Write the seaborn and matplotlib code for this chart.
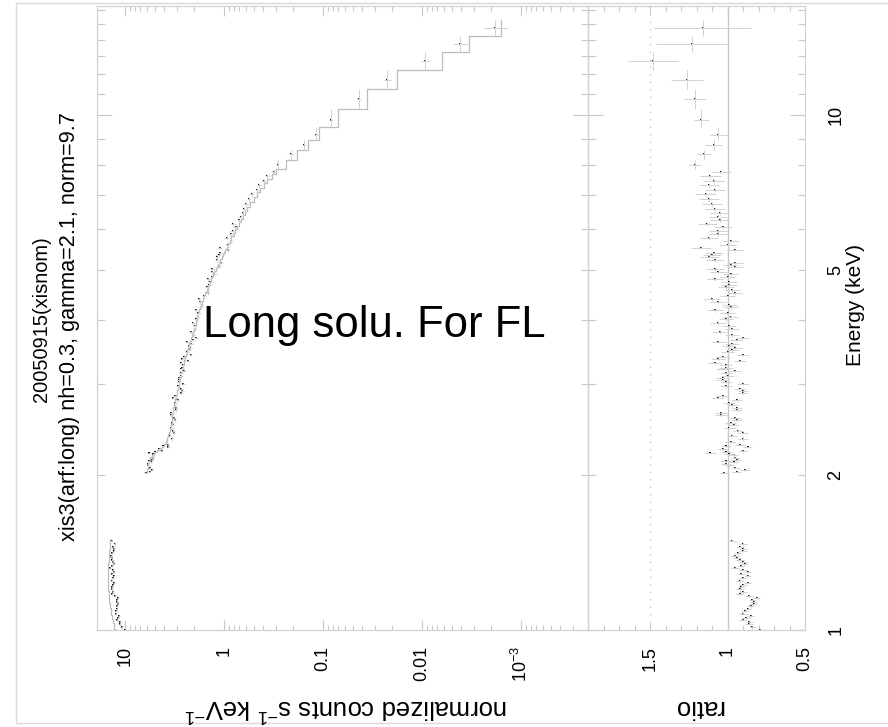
import numpy as np
import pandas as pd
import matplotlib
matplotlib.use("Agg")
import matplotlib.pyplot as plt
import seaborn as sns
from matplotlib.ticker import FixedLocator, NullFormatter, FuncFormatter, MultipleLocator
from matplotlib.patches import Rectangle

# ---------------- data ----------------
title_line1 = "20050915(xisnom)"
title_line2 = "xis3(arf:long) nh=0.3, gamma=2.1, norm=9.7"
overlay_text = "Long solu. For FL"
energy_label = "Energy (keV)"
counts_label = r"normalized counts s$^{-1}$ keV$^{-1}$"
ratio_label = "ratio"

count_ticks = [10, 1, 0.1, 0.01, 1e-3]
count_tick_labels = ["10", "1", "0.1", "0.01", r"10$^{-3}$"]
ratio_ticks = [0.5, 1.0, 1.5]
ratio_tick_labels = ["0.5", "1", "1.5"]
energy_labelled = {1: "1", 2: "2", 5: "5", 10: "10"}

# low-energy band (keV), model (counts/s/keV), data/model ratio, relative error
lo_energy = [1.000, 1.013, 1.027, 1.036, 1.046, 1.055, 1.065, 1.074, 1.089, 1.098,
             1.113, 1.123, 1.133, 1.144, 1.154, 1.164, 1.175, 1.185, 1.201, 1.212,
             1.223, 1.234, 1.245, 1.262, 1.273, 1.284, 1.296, 1.307, 1.319, 1.331,
             1.343, 1.355, 1.367, 1.380, 1.392, 1.411, 1.423, 1.436, 1.449, 1.469,
             1.489]
lo_model = [12.6, 12.8, 13.0, 13.15, 13.3, 13.45, 13.6, 13.7, 13.9, 14.0,
            14.15, 14.25, 14.35, 14.45, 14.5, 14.55, 14.6, 14.65, 14.7, 14.75,
            14.78, 14.8, 14.82, 14.83, 14.83, 14.82, 14.8, 14.78, 14.75, 14.72,
            14.68, 14.64, 14.6, 14.55, 14.5, 14.43, 14.38, 14.32, 14.26, 14.18,
            14.1]
lo_ratio = [0.79, 0.84, 0.86, 0.86, 0.90, 0.88, 0.85, 0.90, 0.89, 0.87,
            0.85, 0.83, 0.83, 0.84, 0.81, 0.86, 0.92, 0.90, 0.92, 0.91,
            0.90, 0.87, 0.92, 0.90, 0.87, 0.91, 0.87, 0.90, 0.95, 0.91,
            0.89, 0.90, 0.92, 0.94, 0.95, 0.93, 0.90, 0.90, 0.92, 0.90,
            0.97]
lo_relerr = [0.028, 0.027, 0.028, 0.027, 0.028, 0.027, 0.028, 0.027, 0.028, 0.027,
             0.028, 0.027, 0.028, 0.027, 0.028, 0.027, 0.028, 0.027, 0.028, 0.027,
             0.028, 0.027, 0.028, 0.027, 0.028, 0.027, 0.028, 0.027, 0.028, 0.027,
             0.028, 0.027, 0.028, 0.027, 0.028, 0.027, 0.028, 0.027, 0.028, 0.027,
             0.028]

hi_energy = [2.018, 2.027, 2.045, 2.063, 2.091, 2.100, 2.119, 2.129, 2.138, 2.157,
             2.187, 2.196, 2.206, 2.216, 2.226, 2.246, 2.266, 2.276, 2.287, 2.317,
             2.349, 2.381, 2.413, 2.435, 2.467, 2.501, 2.523, 2.557, 2.580, 2.615,
             2.638, 2.674, 2.698, 2.734, 2.759, 2.796, 2.821, 2.847, 2.885, 2.911,
             2.937, 2.977, 3.004, 3.031, 3.058, 3.085, 3.113, 3.155, 3.183, 3.212,
             3.226, 3.270, 3.299, 3.329, 3.358, 3.388, 3.419, 3.465, 3.496, 3.528,
             3.560, 3.592, 3.624, 3.657, 3.689, 3.739, 3.789, 3.840, 3.892, 3.944,
             4.015, 4.051, 4.126, 4.181, 4.237, 4.275, 4.333, 4.391, 4.450, 4.510,
             4.571, 4.634, 4.675, 4.738, 4.802, 4.845, 4.911, 4.955, 5.022, 5.067,
             5.112, 5.158, 5.228, 5.298, 5.346, 5.394, 5.467, 5.516, 5.590, 5.691,
             5.768, 5.872, 5.951, 6.058, 6.140, 6.251, 6.335, 6.449, 6.565, 6.714,
             6.866, 7.021, 7.148, 7.310, 7.442, 7.610, 7.748, 7.994, 8.397, 8.742,
             9.143, 9.779, 10.74, 11.70, 12.73, 13.74, 14.76]
hi_model = [6.05, 6.0, 5.95, 5.9, 5.85, 5.8, 5.75, 5.7, 5.65, 5.55,
            5.35, 5.25, 5.1, 4.95, 4.75, 4.45, 4.2, 4.1, 4.0, 3.85,
            3.75, 3.65, 3.58, 3.52, 3.47, 3.42, 3.39, 3.36, 3.34, 3.32,
            3.30, 3.27, 3.24, 3.20, 3.16, 3.11, 3.07, 3.04, 2.99, 2.96,
            2.93, 2.88, 2.85, 2.82, 2.79, 2.76, 2.73, 2.69, 2.66, 2.63,
            2.61, 2.57, 2.54, 2.51, 2.48, 2.45, 2.42, 2.37, 2.34, 2.31,
            2.27, 2.24, 2.21, 2.17, 2.14, 2.10, 2.06, 2.02, 1.98, 1.94,
            1.89, 1.86, 1.81, 1.77, 1.73, 1.70, 1.66, 1.62, 1.58, 1.54,
            1.50, 1.46, 1.43, 1.39, 1.35, 1.32, 1.28, 1.25, 1.21, 1.18,
            1.15, 1.13, 1.09, 1.05, 1.03, 1.00, 0.97, 0.94, 0.91, 0.87,
            0.84, 0.80, 0.77, 0.74, 0.71, 0.67, 0.64, 0.61, 0.58, 0.54,
            0.50, 0.46, 0.43, 0.395, 0.365, 0.33, 0.30, 0.237, 0.183, 0.142,
            0.110, 0.0705, 0.036, 0.0179, 0.00628, 0.00335, 0.00159]
hi_ratio = [1.02, 0.94, 0.89, 0.95, 0.99, 1.01, 0.96, 1.01, 0.94, 0.95,
            0.96, 0.99, 1.11, 1.01, 0.90, 1.03, 0.87, 1.01, 0.92, 0.98,
            0.90, 0.97, 0.90, 0.93, 0.99, 0.96, 0.98, 0.94, 0.95, 1.04,
            1.04, 0.94, 0.94, 0.97, 0.99, 0.94, 1.06, 1.03, 0.90, 0.90,
            0.92, 1.01, 0.90, 1.01, 1.03, 1.03, 1.00, 1.01, 0.95, 1.03,
            1.01, 1.01, 1.08, 0.92, 1.06, 1.03, 0.90, 1.00, 0.97, 0.95,
            0.99, 0.97, 1.06, 0.94, 0.90, 0.97, 1.05, 0.97, 0.99, 1.06,
            1.01, 0.98, 1.00, 1.08, 0.98, 0.99, 1.06, 1.10, 1.00, 0.95,
            0.97, 1.01, 0.99, 0.99, 1.08, 1.00, 0.98, 1.06, 1.08, 0.95,
            0.98, 0.95, 1.08, 1.12, 1.10, 1.09, 0.95, 1.17, 1.00, 0.98,
            1.12, 1.06, 1.06, 1.03, 1.13, 1.05, 1.06, 1.05, 1.08, 1.10,
            1.12, 1.14, 1.08, 1.12, 1.09, 1.11, 1.04, 1.21, 1.15, 1.09,
            1.06, 1.17, 1.21, 1.26, 1.48, 1.23, 1.16]
hi_relerr = [0.030, 0.031, 0.030, 0.032, 0.031, 0.030, 0.031, 0.030, 0.032, 0.031,
             0.031, 0.032, 0.030, 0.031, 0.032, 0.033, 0.033, 0.034, 0.033, 0.034,
             0.034, 0.035, 0.034, 0.035, 0.036, 0.035, 0.036, 0.035, 0.036, 0.037,
             0.036, 0.037, 0.036, 0.037, 0.038, 0.037, 0.038, 0.037, 0.038, 0.039,
             0.038, 0.039, 0.040, 0.039, 0.040, 0.041, 0.040, 0.041, 0.040, 0.041,
             0.042, 0.041, 0.042, 0.043, 0.042, 0.043, 0.044, 0.043, 0.044, 0.045,
             0.044, 0.045, 0.046, 0.045, 0.046, 0.045, 0.046, 0.047, 0.046, 0.047,
             0.046, 0.047, 0.046, 0.047, 0.048, 0.049, 0.048, 0.049, 0.048, 0.049,
             0.050, 0.049, 0.050, 0.051, 0.050, 0.051, 0.052, 0.051, 0.052, 0.053,
             0.052, 0.053, 0.052, 0.053, 0.054, 0.053, 0.054, 0.055, 0.054, 0.055,
             0.054, 0.055, 0.056, 0.055, 0.056, 0.057, 0.056, 0.057, 0.058, 0.057,
             0.058, 0.059, 0.058, 0.059, 0.060, 0.059, 0.060, 0.034, 0.040, 0.048,
             0.052, 0.042, 0.060, 0.082, 0.110, 0.190, 0.270]

# ---------------- styling ----------------
sns.set_theme(style="white")
plt.rcParams["font.family"] = ["Liberation Sans", "DejaVu Sans"]
plt.rcParams["mathtext.fontset"] = "custom"
plt.rcParams["mathtext.rm"] = "Liberation Sans"
plt.rcParams["mathtext.it"] = "Liberation Sans"
plt.rcParams["mathtext.bf"] = "Liberation Sans"

FRAME = "#d2d2d2"
TICK = "#c8c8c8"
ERR = "#d2d2d2"
MODEL = "#bcbcbc"
DOT = "#1a1a1a"

W, H = 888, 727
fig = plt.figure(figsize=(W / 100, H / 100), dpi=100)
fig.patch.set_facecolor("white")


def px_rect(x0, y0, x1, y1):
    return [x0 / W, 1 - y1 / H, (x1 - x0) / W, (y1 - y0) / H]


ax_c = fig.add_axes(px_rect(97, 6, 588, 630))
ax_r = fig.add_axes(px_rect(588, 6, 805, 630))


def band_frame(energy, model, ratio, relerr):
    e = np.asarray(energy, float)
    mids = (e[1:] + e[:-1]) / 2
    lo = np.concatenate([[e[0] - (mids[0] - e[0])], mids])
    hi = np.concatenate([mids, [e[-1] + (e[-1] - mids[-1])]])
    df = pd.DataFrame({"energy": e, "model": model, "ratio": ratio,
                       "relerr": relerr, "elo": lo, "ehi": hi})
    df["counts"] = df["model"] * df["ratio"]
    return df


bands = [band_frame(lo_energy, lo_model, lo_ratio, lo_relerr),
         band_frame(hi_energy, hi_model, hi_ratio, hi_relerr)]

for ax in (ax_c, ax_r):
    ax.set_yscale("log")
ax_c.set_xscale("log")

for df in bands:
    px, py = [], []
    for m, a, b in zip(df["model"], df["elo"], df["ehi"]):
        px += [m, m]
        py += [a, b]
    sns.lineplot(x=px, y=py, sort=False, estimator=None, ax=ax_c,
                 color=MODEL, lw=0.9)
    cerr = df["counts"] * df["relerr"]
    yerr = [df["energy"] - df["elo"], df["ehi"] - df["energy"]]
    ax_c.errorbar(df["counts"], df["energy"], xerr=cerr, yerr=yerr,
                  fmt="none", ecolor=ERR, elinewidth=0.7, capsize=0)
    sns.scatterplot(data=df, x="counts", y="energy", ax=ax_c, s=2.5,
                    color=DOT, marker="s", linewidth=0, legend=False)
    rerr = df["ratio"] * df["relerr"]
    ax_r.errorbar(df["ratio"], df["energy"], xerr=rerr, yerr=yerr,
                  fmt="none", ecolor=ERR, elinewidth=0.7, capsize=0)
    sns.scatterplot(data=df, x="ratio", y="energy", ax=ax_r, s=2.5,
                    color=DOT, marker="s", linewidth=0, legend=False)

ax_r.axvline(1.0, color="#c6c6c6", lw=1.0, zorder=0)
ax_r.axvline(1.5, color="#bdbdbd", lw=0.9, ls=(0, (1, 5)), zorder=0)

emax = 16.28
ax_c.set_ylim(1.0, emax)
ax_r.set_ylim(1.0, emax)
ax_c.set_xlim(19.18, 2.104e-4)
ax_r.set_xlim(1.9, 0.5)

for ax in (ax_c, ax_r):
    ax.set_xlabel("")
    ax.set_ylabel("")
    for s in ax.spines.values():
        s.set_color(FRAME)
        s.set_linewidth(0.9)
    ax.set_facecolor("none")
    ax.grid(False)

for ax in (ax_c, ax_r):
    ax.yaxis.set_major_locator(FixedLocator([1, 10]))
    ax.yaxis.set_minor_locator(FixedLocator([2, 3, 4, 5, 6, 7, 8, 9, 11, 12, 13, 14, 15, 16]))
    ax.tick_params(axis="y", which="major", direction="in", length=10.8, width=0.8,
                   color=TICK, left=True, right=True, labelleft=False, labelright=False)
    ax.tick_params(axis="y", which="minor", direction="in", length=5.4, width=0.8,
                   color=TICK, left=True, right=True, labelleft=False, labelright=False)

ax_r.yaxis.set_major_formatter(FuncFormatter(lambda v, p: energy_labelled.get(int(round(v)), "")))
ax_r.yaxis.set_minor_formatter(FuncFormatter(lambda v, p: energy_labelled.get(int(round(v)), "")))
ax_r.tick_params(axis="y", which="both", labelright=True, labelsize=13, pad=16,
                 labelrotation=90, labelcolor="black")
for lab in ax_r.get_yticklabels(which="both"):
    lab.set_va("center")

ax_c.xaxis.set_major_locator(FixedLocator(count_ticks))
ax_c.set_xticklabels(count_tick_labels)
ax_c.xaxis.set_minor_locator(FixedLocator(
    [k * 10.0 ** d for d in range(-4, 2) for k in range(2, 10)]))
ax_c.xaxis.set_minor_formatter(NullFormatter())
ax_c.tick_params(axis="x", which="major", direction="in", length=7.2, width=0.8,
                 color=TICK, top=True, bottom=True, labelsize=13, pad=11.5,
                 labelrotation=90, labelcolor="black")
ax_c.tick_params(axis="x", which="minor", direction="in", length=3.6, width=0.8,
                 color=TICK, top=True, bottom=True)

ax_r.xaxis.set_major_locator(FixedLocator(ratio_ticks))
ax_r.set_xticklabels(ratio_tick_labels)
ax_r.xaxis.set_minor_locator(MultipleLocator(0.1))
ax_r.tick_params(axis="x", which="major", direction="in", length=5.0, width=0.8,
                 color=TICK, top=True, bottom=True, labelsize=13, pad=11.5,
                 labelrotation=90, labelcolor="black")
ax_r.tick_params(axis="x", which="minor", direction="in", length=3.6, width=0.8,
                 color=TICK, top=True, bottom=True)

fig.text(41 / W, 1 - 319 / H, title_line1, rotation=90, ha="center", va="center",
         fontsize=14.4, color="black")
fig.text(70 / W, 1 - 327 / H, title_line2, rotation=90, ha="center", va="center",
         fontsize=15.6, color="black")
fig.text(855 / W, 1 - 305 / H, energy_label, rotation=90, ha="center", va="center",
         fontsize=15, color="black")
fig.text(346 / W, 1 - 707 / H, counts_label, rotation=180, ha="center", va="center",
         fontsize=18.5, color="black")
fig.text(698 / W, 1 - 707 / H, ratio_label, rotation=180, ha="center", va="center",
         fontsize=18.5, color="black")
fig.text(203 / W, 1 - 326 / H, overlay_text, ha="left", va="center",
         fontsize=31.4, color="black")

fig.add_artist(Rectangle((16 / W, 1 - 723 / H), (900 - 16) / W, (723 - 3) / H,
                         transform=fig.transFigure, fill=False, ec="#dadada", lw=1.0))

fig.savefig("out.png", dpi=100, facecolor="white")
